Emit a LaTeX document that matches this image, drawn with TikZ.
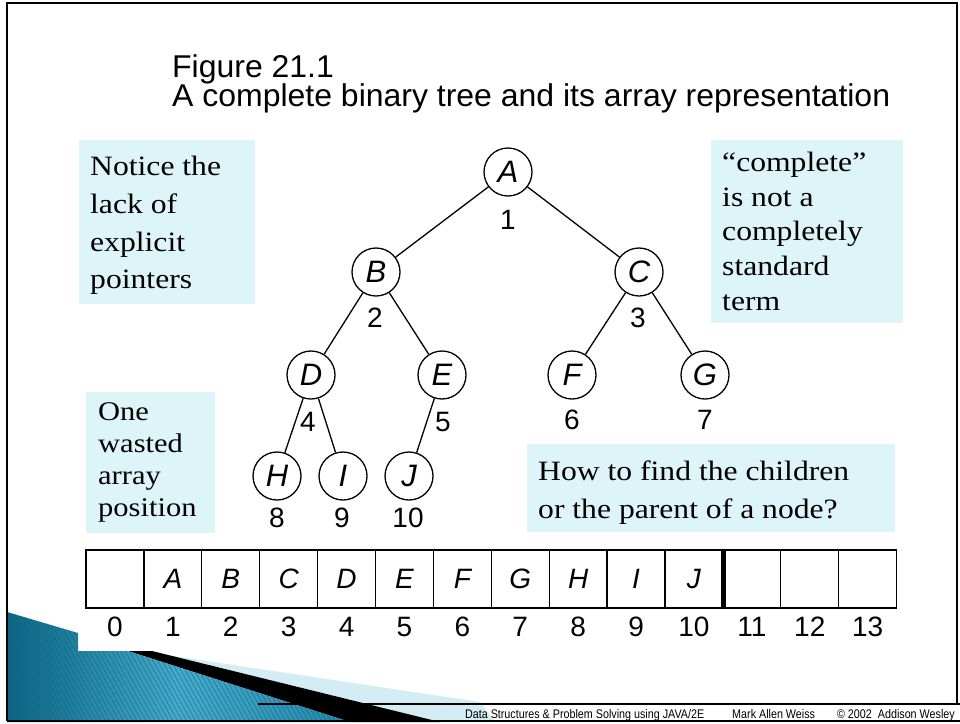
\documentclass[tikz,border=0pt]{standalone}
\usepackage{fontspec}
\setmainfont{Liberation Serif}
\newfontfamily\titlefont{Liberation Sans}
\newfontfamily\headfont[FakeStretch=1.015]{Liberation Sans}
\newfontfamily\notefont[FakeStretch=1.13]{Liberation Serif}
\newfontfamily\footfont[FakeStretch=0.86]{Liberation Sans}
\usetikzlibrary{calc}

\definecolor{notebg}{RGB}{221,244,249}
\definecolor{tealdark}{RGB}{12,100,130}
\definecolor{tealmid}{RGB}{72,172,206}
\definecolor{tealright}{RGB}{34,136,170}
\definecolor{palecyan}{RGB}{212,236,243}

\tikzset{
  treenode/.style={circle, draw, line width=1.3pt, minimum size=48pt, inner sep=0pt,
                   font=\titlefont\itshape\fontsize{31}{31}\selectfont},
  idx/.style={inner sep=0pt, font=\titlefont\fontsize{28}{28}\selectfont},
  edge/.style={line width=1.3pt},
  cell/.style={draw, line width=1.3pt, minimum width=57.9pt, minimum height=58pt, inner sep=0pt,
               font=\titlefont\itshape\fontsize{28}{28}\selectfont},
  notebox/.style={fill=notebg, inner sep=0pt},
  notetext/.style={anchor=north west, inner sep=0pt, align=left, text=black},
  headline/.style={anchor=base west, inner sep=0pt, font=\headfont\fontsize{31.5}{31.5}\selectfont},
  stripe/.style={draw=tealdark, line width=1.1pt, opacity=0.45}
}

\begin{document}
\begin{tikzpicture}[x=1pt,y=-1pt]
\path[use as bounding box] (0,0) rectangle (960,723);
\fill[white] (0,0) rectangle (960,723);

% corner decoration
\fill[palecyan] (140,651) -- (480,702) -- (495,722) -- (440,722) -- cycle;
\fill[black] (128,651) -- (152,651) -- (440,722) -- (350,722) -- cycle;
\path[left color=tealdark, right color=tealright, middle color=tealmid]
  (7,612) -- (78,633) -- (78,651) -- (128,651) -- (350,722) -- (7,722) -- cycle;
\begin{scope}
  \clip (7,612) -- (78,633) -- (78,651) -- (128,651) -- (350,722) -- (7,722) -- cycle;
  \foreach \i in {0,...,110} {
    \draw[stripe] ({\i*4.5-70},600) -- ++(70,125);
  }
\end{scope}
\draw[line width=1.5pt] (258,704) -- (960,704);

% frame
\draw[line width=2pt] (7,721) -- (7,3) -- (957,3) -- (957,704);
\draw[line width=2pt] (7,721) -- (960,721);

% title
\node[headline] (t1) at (172,77) {Figure 21.1};
\node[headline] (t2) at (172,106) {A complete binary tree and its array representation};

% notes
\node[notebox, anchor=north west, minimum width=176pt, minimum height=164pt] (b1) at (79,140) {};
\node[notetext, font=\notefont\fontsize{28}{37.7}\selectfont] (b1t) at (90,156) {Notice the\\lack of\\explicit\\pointers};

\node[notebox, anchor=north west, minimum width=192pt, minimum height=183pt] (b2) at (711,140) {};
\node[notetext, font=\notefont\fontsize{28}{34.6}\selectfont] (b2t) at (722,152) {“complete”\\is not a\\completely\\standard\\term};

\node[notebox, anchor=north west, minimum width=129pt, minimum height=141pt] (b3) at (86,392) {};
\node[notetext, font=\notefont\fontsize{27}{32}\selectfont] (b3t) at (98,402) {One\\wasted\\array\\position};

\node[notebox, anchor=north west, minimum width=368pt, minimum height=88pt] (b4) at (527,444) {};
\node[notetext, font=\notefont\fontsize{28}{38}\selectfont] (b4t) at (538,461) {How to find the children\\or the parent of a node?};

% tree
\node[treenode] (A) at (508,172) {A};
\node[treenode] (B) at (376,272) {B};
\node[treenode] (C) at (639,272) {C};
\node[treenode] (D) at (311,375) {D};
\node[treenode] (E) at (442,375) {E};
\node[treenode] (F) at (572,375) {F};
\node[treenode] (G) at (705,375) {G};
\node[treenode] (H) at (277,476) {H};
\node[treenode] (I) at (343,476) {I};
\node[treenode] (J) at (409,476) {J};

\draw[edge] (A) -- (B);
\draw[edge] (A) -- (C);
\draw[edge] (B) -- (D);
\draw[edge] (B) -- (E);
\draw[edge] (C) -- (F);
\draw[edge] (C) -- (G);
\draw[edge] (D) -- (H);
\draw[edge] (D) -- (I);
\draw[edge] (E) -- (J);

\node[idx] (nA) at (508,220) {1};
\node[idx] (nB) at (375,318) {2};
\node[idx] (nC) at (638,318) {3};
\node[idx] (nD) at (308,422) {4};
\node[idx] (nE) at (443,422) {5};
\node[idx] (nF) at (572,420) {6};
\node[idx] (nG) at (705,420) {7};
\node[idx] (nH) at (277,518) {8};
\node[idx] (nI) at (342,518) {9};
\node[idx] (nJ) at (408,518) {10};

% array
\foreach \k/\t in {0/{},1/A,2/B,3/C,4/D,5/E,6/F,7/G,8/H,9/I,10/J,11/{},12/{},13/{}} {
  \node[cell] (c\k) at ({86+57.9*(\k+0.5)},579) {\t};
  \node[idx] (i\k) at ({86+57.9*(\k+0.5)},627) {\k};
}
\draw[line width=5pt] (c10.north east) -- (c10.south east);

% footer
\node[anchor=base east, inner sep=0pt, font=\footfont\fontsize{12.5}{12.5}\selectfont] (foot) at (955,718)
  {Data Structures \& Problem Solving using JAVA/2E\hspace{28pt}Mark Allen Weiss\hspace{22pt}© 2002\hspace{6pt}Addison Wesley};
\end{tikzpicture}
\end{document}
